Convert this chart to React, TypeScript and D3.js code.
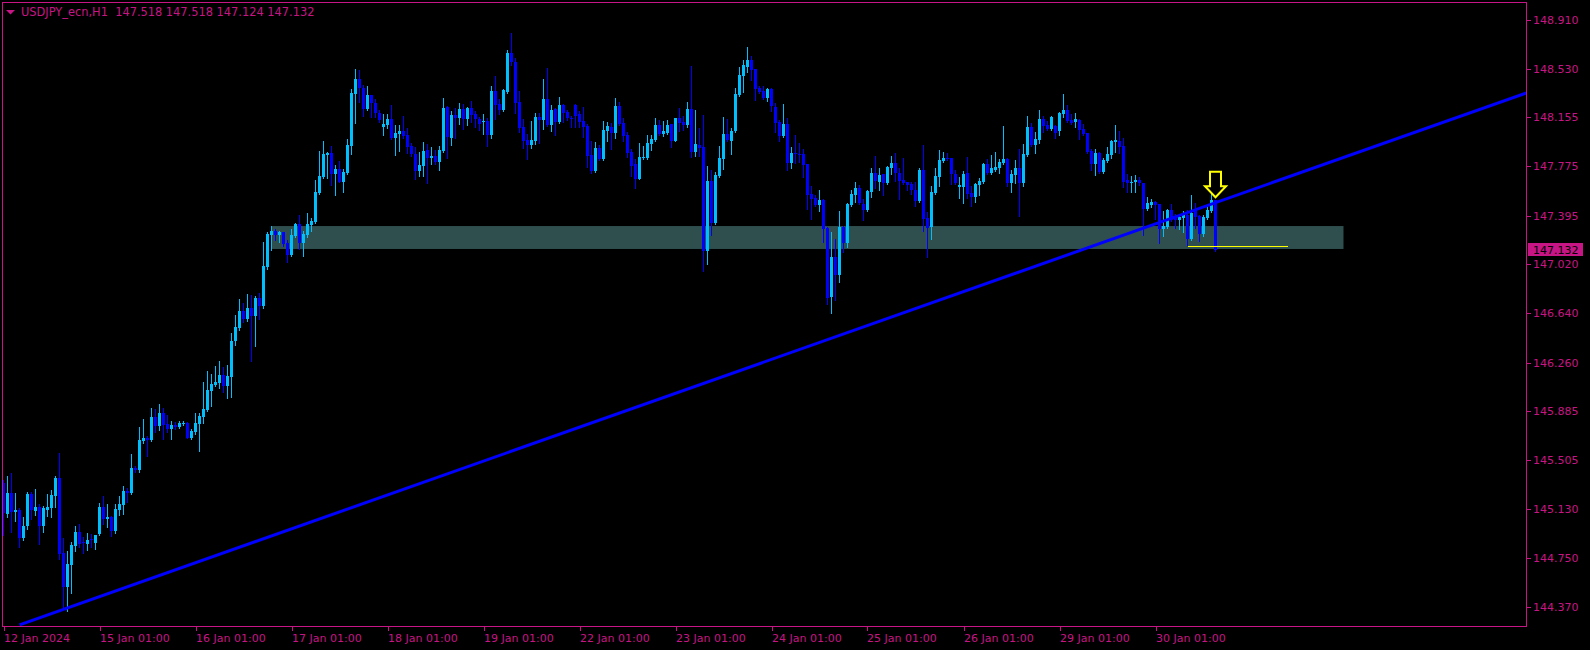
import * as d3 from "d3";
import { useEffect, useRef } from "react";

const WIDTH = 1590;
const HEIGHT = 650;

const symbol = "USDJPY_ecn,H1";

// hourly bars
const opens = [
  145.331, 145.092, 145.254, 145.107, 145.123, 144.907, 144.999, 145.246, 145.115, 145.146,
  144.999, 145.123, 145.138, 145.231, 145.370, 144.791, 144.528, 144.698, 144.845, 144.953,
  144.876, 144.860, 144.899, 144.868, 144.937, 145.146, 145.053, 145.069, 144.961, 145.123,
  145.161, 145.269, 145.254, 145.447, 145.431, 145.655, 145.679, 145.663, 145.841, 145.771,
  145.872, 145.787, 145.748, 145.779, 145.764, 145.787, 145.794, 145.679, 145.725, 145.787,
  145.841, 145.895, 146.041, 146.088, 146.103, 146.165, 146.080, 146.149, 146.427, 146.528,
  146.659, 146.597, 146.682, 146.620, 146.760, 146.698, 146.999, 147.247, 147.278, 147.247,
  147.270, 147.185, 147.092, 147.239, 147.332, 147.185, 147.247, 147.324, 147.347, 147.571,
  147.694, 147.864, 147.880, 147.718, 147.756, 147.656, 147.725, 147.934, 148.335, 148.451,
  148.381, 148.219, 148.327, 148.266, 148.189, 148.081, 148.096, 148.142, 147.995, 148.026,
  148.050, 148.019, 147.934, 147.872, 147.741, 147.779, 147.903, 147.841, 147.856, 147.810,
  147.895, 148.235, 147.995, 148.173, 148.150, 148.219, 148.142, 148.227, 148.181, 148.142,
  148.119, 148.127, 148.019, 148.358, 148.258, 148.212, 148.351, 148.652, 148.582, 148.274,
  148.081, 147.980, 147.941, 147.972, 148.158, 148.135, 148.297, 148.096, 148.219, 148.119,
  148.250, 148.196, 148.150, 148.250, 148.181, 148.127, 148.088, 147.864, 147.741, 147.918,
  147.833, 148.050, 148.081, 148.034, 148.243, 148.111, 148.019, 147.887, 147.795, 147.679,
  147.841, 147.841, 147.949, 147.980, 148.096, 148.026, 148.034, 148.104, 147.972, 148.150,
  148.119, 148.096, 148.219, 147.887, 147.941, 147.926, 147.123, 147.663, 147.339, 147.702,
  147.833, 148.026, 147.972, 148.050, 148.327, 148.474, 148.544, 148.598, 148.528, 148.381,
  148.358, 148.304, 148.374, 148.235, 148.119, 148.011, 148.104, 147.802, 147.880, 147.872,
  147.872, 147.795, 147.563, 147.532, 147.478, 147.517, 147.301, 146.768, 147.076, 146.938,
  147.308, 147.185, 147.478, 147.555, 147.609, 147.486, 147.440, 147.579, 147.725, 147.656,
  147.718, 147.648, 147.764, 147.802, 147.725, 147.671, 147.656, 147.640, 147.594, 147.509,
  147.748, 147.378, 147.308, 147.571, 147.694, 147.818, 147.841, 147.841, 147.718, 147.617,
  147.617, 147.725, 147.571, 147.540, 147.633, 147.656, 147.795, 147.725, 147.748, 147.764,
  147.802, 147.833, 147.648, 147.710, 147.764, 147.648, 147.864, 148.081, 147.941, 147.980,
  148.142, 148.096, 148.065, 148.088, 148.050, 148.181, 148.212, 148.135, 148.119, 148.135,
  148.065, 148.034, 147.895, 147.795, 147.880, 147.733, 147.818, 147.864, 147.965, 147.972,
  147.934, 147.671, 147.648, 147.656, 147.671, 147.648, 147.448, 147.478, 147.501, 147.486,
  147.293, 147.308, 147.440, 147.386, 147.362, 147.378, 147.401, 147.216, 147.440, 147.393,
  147.254, 147.378, 147.432, 147.518,
];

const highs = [
  145.354, 145.385, 145.408, 145.254, 145.138, 145.069, 145.262, 145.262, 145.285, 145.169,
  145.154, 145.246, 145.277, 145.385, 145.563, 144.907, 144.806, 144.876, 144.999, 145.015,
  144.914, 144.945, 144.937, 144.930, 145.177, 145.231, 145.169, 145.076, 145.169, 145.231,
  145.308, 145.292, 145.555, 145.462, 145.764, 145.825, 145.694, 145.910, 145.903, 145.941,
  145.910, 145.856, 145.810, 145.802, 145.810, 145.810, 145.802, 145.748, 145.872, 145.872,
  146.111, 146.196, 146.173, 146.234, 146.273, 146.227, 146.242, 146.489, 146.628, 146.753,
  146.721, 146.791, 146.783, 146.776, 146.799, 147.193, 147.270, 147.316, 147.293, 147.278,
  147.270, 147.208, 147.293, 147.339, 147.401, 147.278, 147.417, 147.378, 147.671, 147.895,
  147.972, 147.887, 147.934, 147.787, 147.818, 147.756, 147.987, 148.374, 148.528, 148.520,
  148.405, 148.397, 148.327, 148.297, 148.212, 148.181, 148.181, 148.250, 148.096, 148.096,
  148.165, 148.073, 147.957, 147.926, 147.887, 147.965, 147.949, 147.926, 147.903, 147.934,
  148.304, 148.243, 148.204, 148.227, 148.266, 148.258, 148.235, 148.281, 148.204, 148.158,
  148.181, 148.150, 148.397, 148.474, 148.297, 148.374, 148.675, 148.806, 148.613, 148.358,
  148.142, 148.026, 148.127, 148.189, 148.189, 148.451, 148.536, 148.250, 148.227, 148.312,
  148.258, 148.212, 148.165, 148.258, 148.204, 148.235, 148.104, 147.972, 147.965, 147.941,
  148.127, 148.119, 148.111, 148.304, 148.274, 148.150, 148.042, 147.910, 147.833, 147.957,
  147.934, 148.019, 148.019, 148.150, 148.135, 148.127, 148.135, 148.104, 148.150, 148.227,
  148.165, 148.274, 148.551, 148.212, 148.073, 148.173, 147.779, 147.748, 147.733, 147.934,
  148.158, 148.142, 148.073, 148.381, 148.544, 148.598, 148.698, 148.629, 148.528, 148.397,
  148.397, 148.381, 148.381, 148.266, 148.135, 148.258, 148.150, 147.926, 148.019, 147.957,
  147.910, 147.795, 147.625, 147.555, 147.594, 147.524, 147.308, 147.270, 147.216, 147.432,
  147.316, 147.494, 147.594, 147.656, 147.633, 147.524, 147.594, 147.764, 147.856, 147.764,
  147.718, 147.779, 147.856, 147.880, 147.764, 147.841, 147.656, 147.656, 147.656, 147.764,
  147.941, 147.424, 147.625, 147.764, 147.903, 147.887, 147.880, 147.841, 147.748, 147.694,
  147.741, 147.849, 147.625, 147.648, 147.687, 147.802, 147.833, 147.864, 147.887, 147.833,
  148.088, 147.841, 147.748, 147.826, 147.910, 147.949, 148.165, 148.111, 148.042, 148.212,
  148.165, 148.127, 148.165, 148.096, 148.196, 148.335, 148.250, 148.181, 148.189, 148.142,
  148.104, 148.034, 147.910, 147.910, 147.887, 147.841, 147.926, 147.980, 148.096, 148.050,
  147.995, 147.718, 147.702, 147.710, 147.694, 147.648, 147.540, 147.524, 147.509, 147.486,
  147.432, 147.448, 147.486, 147.409, 147.409, 147.432, 147.440, 147.555, 147.494, 147.401,
  147.401, 147.478, 147.563, 147.518,
];

const lows = [
  144.930, 145.069, 144.953, 145.038, 144.837, 144.891, 144.976, 145.053, 145.084, 144.860,
  144.953, 145.076, 145.069, 145.146, 144.744, 144.366, 144.343, 144.482, 144.806, 144.837,
  144.791, 144.814, 144.837, 144.822, 144.930, 145.015, 144.992, 144.922, 144.945, 145.084,
  145.092, 145.185, 145.246, 145.416, 145.416, 145.640, 145.540, 145.655, 145.725, 145.740,
  145.671, 145.725, 145.671, 145.748, 145.756, 145.779, 145.679, 145.671, 145.710, 145.578,
  145.794, 145.887, 145.926, 146.080, 146.064, 146.034, 145.987, 145.995, 146.397, 146.512,
  146.574, 146.582, 146.273, 146.389, 146.597, 146.682, 146.984, 147.131, 147.208, 147.193,
  147.162, 147.038, 147.084, 147.231, 147.139, 147.084, 147.231, 147.278, 147.339, 147.563,
  147.687, 147.687, 147.633, 147.555, 147.656, 147.579, 147.718, 147.872, 148.111, 148.274,
  148.165, 148.212, 148.158, 148.158, 148.119, 148.019, 148.073, 147.987, 147.864, 147.895,
  147.995, 147.880, 147.856, 147.679, 147.702, 147.702, 147.648, 147.795, 147.795, 147.748,
  147.887, 147.841, 147.941, 147.995, 148.104, 148.065, 148.096, 148.119, 148.081, 148.057,
  148.026, 147.934, 147.995, 148.142, 148.181, 148.204, 148.343, 148.559, 148.189, 148.042,
  147.918, 147.833, 147.918, 147.949, 147.957, 148.065, 148.088, 148.050, 148.019, 148.111,
  148.119, 148.135, 148.081, 148.081, 148.081, 148.003, 147.771, 147.725, 147.733, 147.826,
  147.826, 147.972, 147.910, 147.995, 148.096, 147.972, 147.849, 147.702, 147.609, 147.679,
  147.833, 147.833, 147.903, 147.972, 148.019, 148.011, 148.026, 147.926, 147.972, 148.050,
  148.057, 148.081, 147.849, 147.856, 147.856, 146.969, 147.023, 147.247, 147.332, 147.694,
  147.756, 147.972, 147.872, 148.042, 148.320, 148.351, 148.505, 148.443, 148.289, 148.343,
  148.297, 148.281, 148.204, 148.042, 147.972, 148.003, 147.748, 147.764, 147.802, 147.810,
  147.694, 147.448, 147.370, 147.471, 147.432, 147.193, 146.713, 146.643, 146.744, 146.883,
  147.115, 147.154, 147.471, 147.501, 147.486, 147.362, 147.432, 147.540, 147.609, 147.594,
  147.555, 147.640, 147.718, 147.663, 147.524, 147.640, 147.594, 147.563, 147.471, 147.501,
  147.278, 147.076, 147.216, 147.563, 147.625, 147.810, 147.826, 147.640, 147.640, 147.532,
  147.494, 147.532, 147.471, 147.501, 147.555, 147.648, 147.718, 147.718, 147.741, 147.725,
  147.795, 147.625, 147.579, 147.648, 147.393, 147.625, 147.856, 147.934, 147.880, 147.957,
  148.042, 148.057, 148.057, 147.995, 148.019, 148.158, 148.119, 148.104, 148.081, 147.987,
  148.019, 147.880, 147.748, 147.710, 147.725, 147.725, 147.810, 147.841, 147.887, 147.880,
  147.617, 147.579, 147.579, 147.579, 147.633, 147.247, 147.440, 147.463, 147.370, 147.185,
  147.239, 147.301, 147.355, 147.301, 147.293, 147.270, 147.169, 147.208, 147.301, 147.200,
  147.239, 147.370, 147.424, 147.124,
];

const closes = [
  145.100, 145.254, 145.107, 145.123, 144.907, 144.999, 145.246, 145.123, 145.146, 144.999,
  145.138, 145.146, 145.238, 145.370, 144.783, 144.528, 144.706, 144.853, 144.953, 144.860,
  144.868, 144.891, 144.891, 144.930, 145.146, 145.053, 145.069, 144.961, 145.131, 145.169,
  145.269, 145.254, 145.447, 145.431, 145.663, 145.679, 145.663, 145.841, 145.771, 145.872,
  145.779, 145.748, 145.779, 145.764, 145.794, 145.794, 145.679, 145.733, 145.794, 145.849,
  145.903, 146.049, 146.095, 146.111, 146.165, 146.080, 146.157, 146.427, 146.536, 146.659,
  146.597, 146.682, 146.620, 146.760, 146.698, 147.007, 147.254, 147.278, 147.247, 147.270,
  147.177, 147.092, 147.247, 147.332, 147.185, 147.254, 147.332, 147.355, 147.579, 147.702,
  147.872, 147.880, 147.718, 147.756, 147.656, 147.733, 147.941, 148.343, 148.451, 148.381,
  148.219, 148.327, 148.266, 148.189, 148.135, 148.104, 148.142, 147.995, 148.034, 148.050,
  148.011, 147.926, 147.872, 147.741, 147.787, 147.895, 147.841, 147.856, 147.810, 147.903,
  148.227, 148.003, 148.173, 148.150, 148.219, 148.142, 148.227, 148.173, 148.142, 148.104,
  148.127, 148.019, 148.358, 148.250, 148.212, 148.366, 148.652, 148.582, 148.266, 148.073,
  147.972, 147.941, 147.980, 148.158, 148.135, 148.297, 148.096, 148.212, 148.119, 148.250,
  148.189, 148.150, 148.142, 148.165, 148.119, 148.081, 147.856, 147.741, 147.918, 147.833,
  148.057, 148.088, 148.034, 148.243, 148.104, 148.011, 147.880, 147.779, 147.679, 147.849,
  147.849, 147.957, 147.987, 148.096, 148.026, 148.050, 148.096, 147.972, 148.150, 148.111,
  148.096, 148.219, 147.887, 147.949, 147.918, 147.123, 147.663, 147.339, 147.710, 147.841,
  148.026, 147.980, 148.050, 148.335, 148.482, 148.559, 148.598, 148.520, 148.374, 148.351,
  148.304, 148.374, 148.243, 148.111, 148.011, 148.104, 147.802, 147.880, 147.872, 147.864,
  147.787, 147.555, 147.524, 147.478, 147.517, 147.293, 146.760, 147.076, 146.938, 147.308,
  147.185, 147.486, 147.563, 147.609, 147.494, 147.440, 147.586, 147.725, 147.663, 147.710,
  147.648, 147.771, 147.802, 147.725, 147.663, 147.648, 147.633, 147.594, 147.509, 147.748,
  147.370, 147.301, 147.579, 147.702, 147.826, 147.841, 147.833, 147.718, 147.648, 147.633,
  147.718, 147.563, 147.540, 147.640, 147.663, 147.795, 147.725, 147.764, 147.771, 147.810,
  147.833, 147.648, 147.718, 147.764, 147.648, 147.872, 148.081, 147.941, 147.987, 148.142,
  148.088, 148.065, 148.158, 148.034, 148.189, 148.212, 148.127, 148.111, 148.142, 148.057,
  148.026, 147.887, 147.795, 147.880, 147.733, 147.826, 147.872, 147.972, 147.980, 147.926,
  147.656, 147.648, 147.656, 147.671, 147.648, 147.448, 147.494, 147.501, 147.478, 147.293,
  147.316, 147.440, 147.362, 147.362, 147.386, 147.401, 147.216, 147.417, 147.386, 147.254,
  147.386, 147.440, 147.517, 147.132,
];

const dateLabels = [
  "12 Jan 2024", "15 Jan 01:00", "16 Jan 01:00", "17 Jan 01:00", "18 Jan 01:00",
  "19 Jan 01:00", "22 Jan 01:00", "23 Jan 01:00", "24 Jan 01:00", "25 Jan 01:00",
  "26 Jan 01:00", "29 Jan 01:00", "30 Jan 01:00",
];
const dateLabelBars = [0, 24, 48, 72, 96, 120, 144, 168, 192, 216, 240, 264, 288];

const priceTicks = [
  148.91, 148.53, 148.155, 147.775, 147.395, 147.02, 146.64, 146.26, 145.885, 145.505,
  145.13, 144.75, 144.37,
];

// objects drawn on the chart
const zoneBars = [67, 335];
const zonePrices = [147.138, 147.315];
const trendBars = [4, 298];
const trendPrices = [144.235, 147.441];
const levelBars = [296, 321];
const levelPrice = 147.161;
const arrowBar = 303;
const arrowPrice = 147.537;

const colors = {
  bg: "#000000",
  frame: "#C71585",
  bull: "#00BFFF",
  bear: "#0000FF",
  zone: "#2F4F4F",
  trend: "#0000FF",
  mark: "#FFFF00",
};

const FONT = "'DejaVu Sans', Verdana, sans-serif";

const drawChart = (target: any) => {
  const fmt = d3.format(".3f");
  const n = Math.min(opens.length, highs.length, lows.length, closes.length);
  const bars = d3.range(n).map((i) => ({
    i,
    o: opens[i],
    h: highs[i],
    l: lows[i],
    c: closes[i],
  }));

  const left = 2.5;
  const right = 1526.5;
  const top = 2.5;
  const bottom = 626.5;

  const x = d3.scaleLinear().domain([0, 303]).range([3.5, 1215.5]);
  const y = d3.scaleLinear().domain([144.37, 148.91]).range([607.4, 19.5]);

  const chart = d3
    .create("svg")
    .attr("width", WIDTH)
    .attr("height", HEIGHT)
    .style("display", "block")
    .style("background", colors.bg);

  chart.append("rect").attr("width", WIDTH).attr("height", HEIGHT).attr("fill", colors.bg);

  chart
    .append("defs")
    .append("clipPath")
    .attr("id", "plot-clip")
    .append("rect")
    .attr("x", left + 0.5)
    .attr("y", top + 0.5)
    .attr("width", right - left - 1)
    .attr("height", bottom - top - 1);

  const plot = chart.append("g").attr("clip-path", "url(#plot-clip)");

  // support zone
  plot
    .append("rect")
    .attr("x", x(zoneBars[0]))
    .attr("width", x(zoneBars[1]) - x(zoneBars[0]))
    .attr("y", y(zonePrices[1]))
    .attr("height", y(zonePrices[0]) - y(zonePrices[1]))
    .attr("fill", colors.zone);

  // candles
  const candles = plot.append("g").attr("shape-rendering", "crispEdges");
  const col = (d: any) => (d.c >= d.o ? colors.bull : colors.bear);

  candles
    .selectAll("rect.wick")
    .data(bars)
    .join("rect")
    .attr("class", "wick")
    .attr("x", (d) => x(d.i) - 0.5)
    .attr("width", 1)
    .attr("y", (d) => Math.round(y(d.h)))
    .attr("height", (d) => Math.max(1, Math.round(y(d.l)) - Math.round(y(d.h)) + 1))
    .attr("fill", col);

  candles
    .selectAll("rect.body")
    .data(bars)
    .join("rect")
    .attr("class", "body")
    .attr("x", (d) => x(d.i) - 1.5)
    .attr("width", 3)
    .attr("y", (d) => Math.round(y(Math.max(d.o, d.c))))
    .attr("height", (d) =>
      Math.max(1, Math.round(y(Math.min(d.o, d.c))) - Math.round(y(Math.max(d.o, d.c))))
    )
    .attr("fill", col);

  // trend line, ray to the right
  const tx0 = x(trendBars[0]);
  const ty0 = y(trendPrices[0]);
  const slope = (y(trendPrices[1]) - ty0) / (x(trendBars[1]) - tx0);
  plot
    .append("line")
    .attr("x1", tx0)
    .attr("y1", ty0)
    .attr("x2", right)
    .attr("y2", ty0 + slope * (right - tx0))
    .attr("stroke", colors.trend)
    .attr("stroke-width", 3);

  // yellow level
  plot
    .append("line")
    .attr("x1", x(levelBars[0]))
    .attr("x2", x(levelBars[1]))
    .attr("y1", Math.round(y(levelPrice)) + 0.5)
    .attr("y2", Math.round(y(levelPrice)) + 0.5)
    .attr("stroke", colors.mark)
    .attr("stroke-width", 1)
    .attr("shape-rendering", "crispEdges");

  // down arrow above last bar
  const ax = x(arrowBar);
  const ay = y(arrowPrice);
  const arrow = d3.path();
  arrow.moveTo(ax, ay);
  arrow.lineTo(ax + 10.5, ay - 11);
  arrow.lineTo(ax + 5.5, ay - 11);
  arrow.lineTo(ax + 5.5, ay - 25.5);
  arrow.lineTo(ax - 5.5, ay - 25.5);
  arrow.lineTo(ax - 5.5, ay - 11);
  arrow.lineTo(ax - 10.5, ay - 11);
  arrow.closePath();
  plot
    .append("path")
    .attr("d", arrow.toString())
    .attr("fill", "none")
    .attr("stroke", colors.mark)
    .attr("stroke-width", 2)
    .attr("stroke-linejoin", "miter");

  // frame
  chart
    .append("rect")
    .attr("x", left)
    .attr("y", top)
    .attr("width", right - left)
    .attr("height", bottom - top)
    .attr("fill", "none")
    .attr("stroke", colors.frame)
    .attr("stroke-width", 1)
    .attr("shape-rendering", "crispEdges");

  // price axis
  const yAxis = chart.append("g");
  yAxis
    .selectAll("line")
    .data(priceTicks)
    .join("line")
    .attr("x1", right)
    .attr("x2", right + 4)
    .attr("y1", (d) => Math.round(y(d)) + 0.5)
    .attr("y2", (d) => Math.round(y(d)) + 0.5)
    .attr("stroke", colors.frame)
    .attr("shape-rendering", "crispEdges");
  yAxis
    .selectAll("text")
    .data(priceTicks)
    .join("text")
    .attr("x", right + 6.5)
    .attr("y", (d) => y(d) + 4)
    .attr("fill", colors.frame)
    .style("font", `11px ${FONT}`)
    .text((d) => fmt(d));

  // current price tag
  const last = bars[bars.length - 1];
  const ly = y(last.c);
  chart
    .append("rect")
    .attr("x", right + 1.5)
    .attr("y", Math.round(ly) - 7)
    .attr("width", 55)
    .attr("height", 13)
    .attr("fill", colors.frame);
  chart
    .append("text")
    .attr("x", right + 6.5)
    .attr("y", ly + 4)
    .attr("fill", "#000000")
    .style("font", `11px ${FONT}`)
    .text(fmt(last.c));

  // time axis
  const xAxis = chart.append("g");
  xAxis
    .selectAll("line")
    .data(dateLabelBars)
    .join("line")
    .attr("x1", (d) => Math.round(x(d)) + 0.5)
    .attr("x2", (d) => Math.round(x(d)) + 0.5)
    .attr("y1", bottom)
    .attr("y2", bottom + 4)
    .attr("stroke", colors.frame)
    .attr("shape-rendering", "crispEdges");
  xAxis
    .selectAll("text")
    .data(dateLabels)
    .join("text")
    .attr("x", (_, i) => Math.round(x(dateLabelBars[i])))
    .attr("y", 642)
    .attr("fill", colors.frame)
    .style("font", `11px ${FONT}`)
    .text((d) => d);

  // title
  chart
    .append("path")
    .attr("d", "M6,10L15,10L10.5,14.5Z")
    .attr("fill", colors.frame);
  chart
    .append("text")
    .attr("x", 21)
    .attr("y", 15.5)
    .attr("fill", colors.frame)
    .style("font", `11.4px ${FONT}`)
    .style("white-space", "pre")
    .text(`${symbol}  ${fmt(last.o)} ${fmt(last.h)} ${fmt(last.l)} ${fmt(last.c)}`);

  const targetAccess = d3.select(target);
  targetAccess.selectAll("svg").remove();
  targetAccess.append(() => chart.node());
};

const App = () => {
  const targetRef = useRef();
  useEffect(() => {
    if (targetRef.current) drawChart(targetRef.current);
  }, []);
  return (
    <div
      ref={targetRef as any}
      style={{ position: "absolute", left: 0, top: 0, width: WIDTH, height: HEIGHT, background: "#000" }}
    />
  );
};

export default App;
